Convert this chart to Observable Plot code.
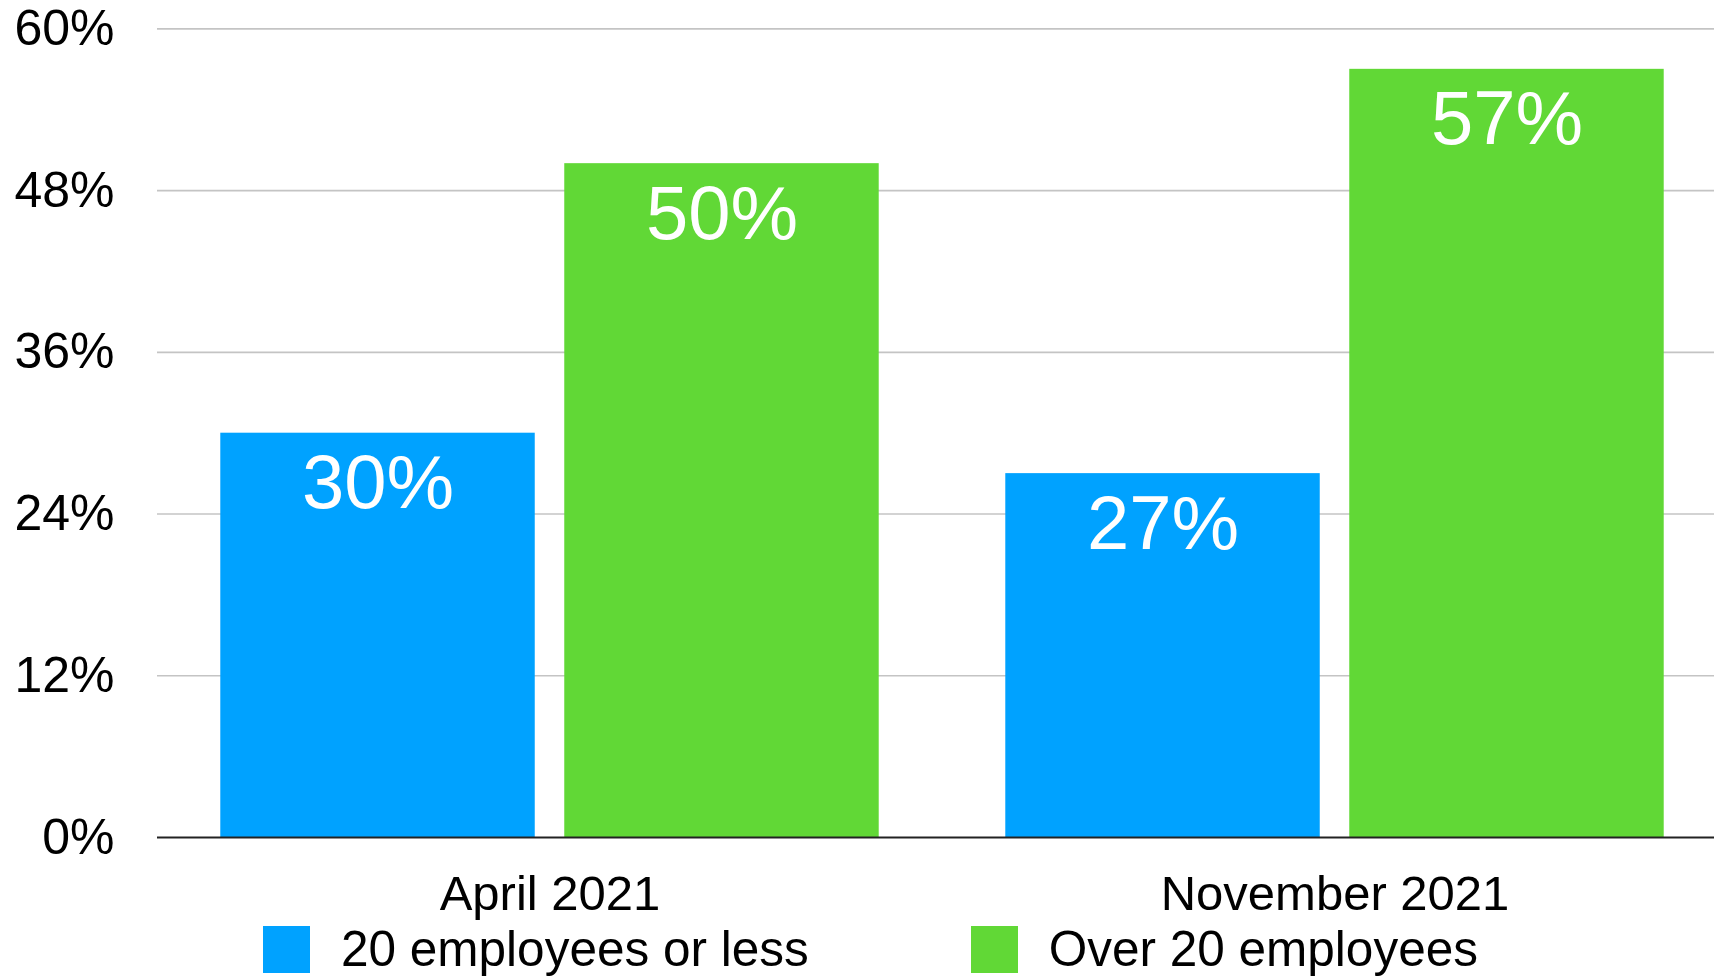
<!DOCTYPE html>
<html>
<head>
<meta charset="utf-8">
<script src="https://cdn.jsdelivr.net/npm/d3@7"></script>
<script src="https://cdn.jsdelivr.net/npm/@observablehq/plot@0.6"></script>
<style>
  html, body { margin: 0; padding: 0; background: #fff; }
  body { width: 1714px; height: 979px; overflow: hidden; font-family: "Liberation Sans", Arial, Helvetica, sans-serif; }
  #chart svg { display: block; max-width: none !important; }
  #chart [aria-label^="fx-axis"] text { font-size: 49px; }
  .legend { display: flex; align-items: center; height: 48px; padding-left: 263px; font-size: 49.5px; color: #000; }
  .legend .sw { width: 47px; height: 47px; margin-right: 31px; flex: none; }
  .legend .item { display: flex; align-items: center; margin-right: 162px; white-space: nowrap; line-height: 1; }
</style>
</head>
<body>
<div id="chart"></div>
<script>
const groups = ["April 2021", "November 2021"];
const seriesNames = ["20 employees or less", "Over 20 employees"];
const smallShare = [30, 27];
const largeShare = [50, 57];
const yTicks = [0, 12, 24, 36, 48, 60];
const colors = ["#00A2FF", "#61D836"];

const table = [];
groups.forEach((g, i) => {
  table.push({group: g, series: seriesNames[0], value: smallShare[i]});
  table.push({group: g, series: seriesNames[1], value: largeShare[i]});
});

const chart = Plot.plot({
  width: 1714,
  height: 925,
  marginLeft: 157,
  marginRight: -13,
  marginTop: 28.4,
  marginBottom: 88,
  style: {fontFamily: "'Liberation Sans', Arial, Helvetica, sans-serif", fontSize: "50px", color: "#000", background: "#fff"},
  facet: {data: table, x: "group"},
  fx: {domain: groups, padding: 0, round: false, axis: "bottom", label: null, tickSize: 0, tickPadding: 38},
  x: {domain: seriesNames, paddingInner: 0.0858, paddingOuter: 0.184, align: 0.5, round: false, axis: null},
  y: {domain: [0, 60], ticks: yTicks, tickFormat: d => d + "%", tickSize: 0, tickPadding: 43, label: null},
  color: {domain: seriesNames, range: colors},
  marks: [
    Plot.ruleY(yTicks.filter(d => d > 0), {stroke: "#c4c4c4", strokeWidth: 1.6}),
    Plot.barY(table, {x: "series", y: "value", fill: "series"}),
    Plot.ruleY([0], {stroke: "#222", strokeWidth: 2}),
    Plot.text(table, {x: "series", y: "value", text: d => d.value + "%", fill: "#fff", fontSize: 76, lineAnchor: "top", dy: 21})
  ]
});
document.getElementById("chart").appendChild(chart);

const legend = document.createElement("div");
legend.className = "legend";
seriesNames.forEach((name, i) => {
  const item = document.createElement("div");
  item.className = "item";
  const sw = document.createElement("div");
  sw.className = "sw";
  sw.style.background = colors[i];
  const label = document.createElement("span");
  label.textContent = name;
  item.appendChild(sw);
  item.appendChild(label);
  legend.appendChild(item);
});
document.getElementById("chart").appendChild(legend);
</script>
</body>
</html>
